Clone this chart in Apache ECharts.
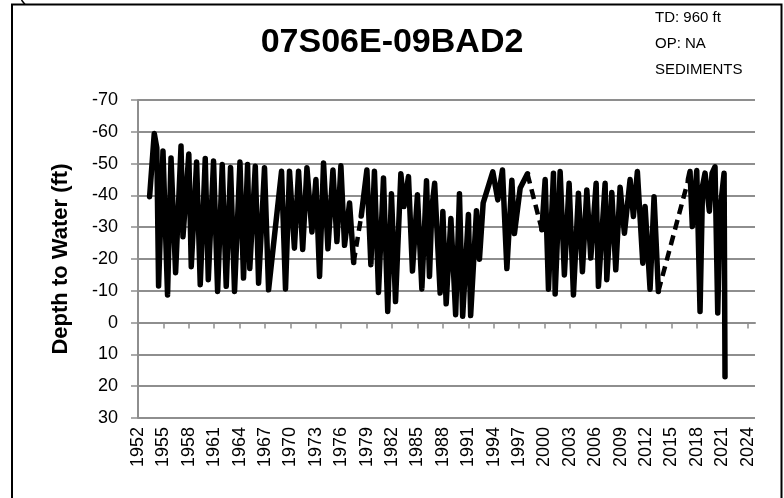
<!DOCTYPE html>
<html>
<head>
<meta charset="utf-8">
<script src="https://cdn.jsdelivr.net/npm/echarts@6/dist/echarts.min.js"></script>
<style>
  html, body { margin: 0; padding: 0; background: #fff; }
  #chart { width: 784px; height: 498px; }
</style>
</head>
<body>
<div id="chart"></div>
<script>
// Well hydrograph: depth to water (ft) vs. year
const wellName = '07S06E-09BAD2';
const wellNotes = ['TD: 960 ft', 'OP: NA', 'SEDIMENTS'];
const yAxisTitle = 'Depth to Water (ft)';

const yearTicks = [1952, 1955, 1958, 1961, 1964, 1967, 1970, 1973, 1976, 1979, 1982, 1985,
  1988, 1991, 1994, 1997, 2000, 2003, 2006, 2009, 2012, 2015, 2018, 2021, 2024];

// measurement dates (decimal years)
const obsYear = [
  1953.37, 1953.92, 1954.22, 1954.43, 1954.95, 1955.49, 1955.90, 1956.44, 1957.08, 1957.31,
  1958.00, 1958.29, 1958.92, 1959.35, 1959.94, 1960.30, 1960.92, 1961.40, 1961.95, 1962.42,
  1962.93, 1963.40, 1964.04, 1964.46, 1964.94, 1965.20, 1965.85, 1966.24, 1966.94, 1967.42,
  1968.95, 1969.42, 1969.89, 1970.47, 1970.96, 1971.45, 1971.95, 1972.54, 1973.01, 1973.44,
  1973.91, 1974.43, 1975.02, 1975.49, 1975.96, 1976.39, 1976.98, 1977.47, 1978.36, 1979.03,
  1979.50, 1979.92, 1980.40, 1980.99, 1981.49, 1981.93, 1982.41, 1983.04, 1983.41, 1983.94,
  1984.41, 1985.00, 1985.52, 1986.07, 1986.42, 1986.70, 1987.03, 1987.68, 1988.00, 1988.39,
  1988.95, 1989.51, 1989.96, 1990.34, 1991.02, 1991.28, 1991.97, 1992.32, 1992.76, 1993.90,
  1994.49, 1995.04, 1995.56, 1996.15, 1996.45, 1997.13, 1997.99, 1999.69, 2000.08, 2000.47,
  2001.06, 2001.26, 2001.85, 2002.35, 2002.91, 2003.42, 2004.01, 2004.48, 2005.00, 2005.47,
  2006.10, 2006.37, 2007.16, 2007.36, 2007.95, 2008.42, 2008.93, 2009.44, 2010.11, 2010.50,
  2010.97, 2011.61, 2011.88, 2012.47, 2012.94, 2013.45, 2016.99, 2017.19, 2017.46, 2017.98,
  2018.37, 2018.67, 2018.96, 2019.47, 2019.79, 2020.14, 2020.46, 2020.73, 2021.21, 2021.32
];

// depth to water, ft (negative = above the reference)
const obsDepth = [
  -39.6, -59.5, -55.0, -11.5, -54.0, -8.7, -51.8, -15.7, -55.5, -27.0,
  -53.0, -17.6, -50.5, -11.9, -51.6, -13.5, -50.8, -9.8, -49.7, -11.4,
  -48.8, -9.8, -50.5, -14.0, -49.7, -17.0, -49.2, -12.4, -48.7, -10.3,
  -47.6, -10.6, -47.6, -23.4, -47.6, -23.0, -48.7, -28.5, -45.0, -14.5,
  -50.2, -23.2, -48.0, -25.5, -49.3, -24.3, -37.6, -18.9, -33.5, -48.0,
  -18.2, -47.6, -9.5, -45.5, -3.5, -40.5, -6.6, -46.8, -36.5, -45.9,
  -16.2, -40.2, -10.6, -44.6, -14.5, -36.0, -43.8, -9.3, -34.9, -5.9,
  -32.7, -2.5, -40.5, -2.0, -34.0, -2.2, -35.2, -19.9, -37.6, -47.4,
  -38.6, -48.0, -17.0, -44.8, -28.0, -42.3, -46.8, -29.2, -45.0, -10.5,
  -47.0, -9.0, -47.5, -15.0, -43.8, -8.7, -40.7, -16.0, -41.7, -20.3,
  -43.8, -11.4, -43.8, -13.5, -40.9, -16.6, -42.6, -28.1, -45.0, -33.4,
  -47.5, -18.7, -36.5, -10.5, -39.6, -9.8, -45.0, -47.5, -30.2, -47.8,
  -3.5, -43.0, -47.0, -35.0, -47.0, -49.0, -3.0, -35.0, -47.0, 17.0
];

// the record is interrupted after these measurements
const gapAfter = [47, 86, 115];

const solidData = [];
const dashedData = [];
obsYear.forEach((yr, i) => {
  solidData.push([yr, obsDepth[i]]);
  if (gapAfter.includes(i)) {
    solidData.push([yr, '-']);
    dashedData.push([yr, obsDepth[i]], [obsYear[i + 1], obsDepth[i + 1]], [obsYear[i + 1], '-']);
  }
});

const axisGray = '#8e8e8e';
const chart = echarts.init(document.getElementById('chart'), null, { renderer: 'canvas' });

chart.setOption({
  animation: false,
  backgroundColor: '#fff',
  title: {
    text: wellName,
    left: 'center',
    top: 26,
    padding: 0,
    textStyle: { fontFamily: 'Liberation Sans', fontWeight: 'bold', fontSize: 34, color: '#000' }
  },
  grid: { left: 138, top: 100, width: 617, height: 318 },
  xAxis: {
    type: 'value',
    min: 1952,
    max: 2024.86,
    interval: 3,
    axisLine: { show: true, lineStyle: { color: axisGray, width: 2 } },
    axisTick: { show: true, length: 6, customValues: yearTicks, lineStyle: { color: axisGray, width: 1.5 } },
    splitLine: { show: false },
    axisLabel: {
      customValues: yearTicks,
      rotate: 90,
      margin: 9,
      color: '#000',
      fontFamily: 'Liberation Sans',
      fontSize: 18,
      formatter: v => String(Math.round(v))
    }
  },
  yAxis: {
    type: 'value',
    inverse: true,
    min: -70,
    max: 30,
    interval: 10,
    name: yAxisTitle,
    nameLocation: 'middle',
    nameRotate: 90,
    nameGap: 66,
    nameTextStyle: { fontFamily: 'Liberation Sans', fontWeight: 'bold', fontSize: 22, color: '#000' },
    axisLine: { show: true, lineStyle: { color: axisGray, width: 2 } },
    axisTick: { show: true, length: 7, lineStyle: { color: axisGray, width: 1.5 } },
    splitLine: { show: true, lineStyle: { color: axisGray, width: 2 } },
    axisLabel: { margin: 20, color: '#000', fontFamily: 'Liberation Sans', fontSize: 18 }
  },
  series: [
    {
      type: 'line',
      data: solidData,
      showSymbol: false,
      connectNulls: false,
      lineStyle: { color: '#000', width: 5.5, join: 'round', cap: 'round' },
      z: 3
    },
    {
      type: 'line',
      data: dashedData,
      showSymbol: false,
      connectNulls: false,
      lineStyle: { color: '#000', width: 4.5, type: [10, 6] },
      z: 2
    }
  ],
  graphic: [
    {
      type: 'rect',
      shape: { x: 12, y: 4.5, width: 769.5, height: 510 },
      style: { fill: 'none', stroke: '#000', lineWidth: 2 },
      silent: true
    },
    {
      type: 'line',
      shape: { x1: 21.5, y1: 0, x2: 25, y2: 4.5 },
      style: { stroke: '#000', lineWidth: 1.5 },
      silent: true
    },
    ...wellNotes.map((t, i) => ({
      type: 'text',
      left: 655,
      top: 10 + i * 26,
      style: { text: t, fontFamily: 'Liberation Sans', fontSize: 15, fill: '#000' },
      silent: true
    }))
  ]
});
</script>
</body>
</html>
